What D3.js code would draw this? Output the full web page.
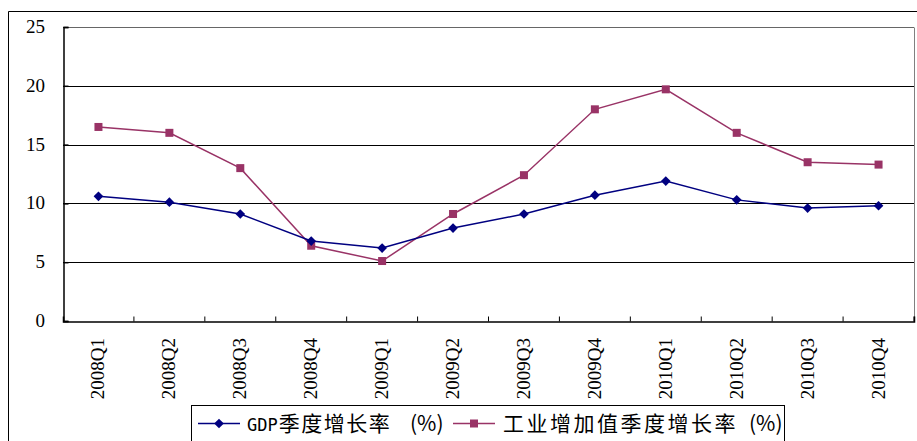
<!DOCTYPE html>
<html>
<head>
<meta charset="utf-8">
<script src="https://cdn.jsdelivr.net/npm/d3@7"></script>
<style>
  body { margin: 0; background: #fff; }
  svg { display: block; }
  .num { font-family: "Liberation Serif", "DejaVu Serif", serif; }
  .cjk { font-family: "Noto Sans CJK SC", sans-serif; }
</style>
</head>
<body>
<div id="chart"></div>
<script>
// quarters on the x axis
const quarters = ["2008Q1","2008Q2","2008Q3","2008Q4","2009Q1","2009Q2","2009Q3","2009Q4","2010Q1","2010Q2","2010Q3","2010Q4"];
// GDP quarterly growth (%)
const gdp = [10.6, 10.1, 9.1, 6.8, 6.2, 7.9, 9.1, 10.7, 11.9, 10.3, 9.6, 9.8];
// industrial value added quarterly growth (%)
const industry = [16.5, 16.0, 13.0, 6.4, 5.1, 9.1, 12.4, 18.0, 19.7, 16.0, 13.5, 13.3];
const yTicks = [0, 5, 10, 15, 20, 25];
const seriesNames = ["季度增长率", "工业增加值季度增长率"];

const width = 917, height = 441;
const margin = {top: 27, right: 3, bottom: 120, left: 63};

const svg = d3.select('#chart').append('svg')
    .attr('width', width)
    .attr('height', height);

// outer chart frame (only left and top visible)
svg.append('path')
    .attr('d', `M8.5,${height} V11.5 H${width}`)
    .attr('fill', 'none')
    .attr('stroke', '#000');

const x = d3.scaleBand()
    .domain(quarters)
    .range([margin.left, width - margin.right]);

const y = d3.scaleLinear()
    .domain([0, 25])
    .range([height - margin.bottom, margin.top]);

const plot = svg.append('g');

// gridlines
plot.selectAll('line.grid')
    .data(yTicks.filter(d => d > 0))
    .enter().append('line')
        .attr('class', 'grid')
        .attr('x1', margin.left)
        .attr('x2', width - margin.right)
        .attr('y1', d => Math.round(y(d)) + 0.5)
        .attr('y2', d => Math.round(y(d)) + 0.5)
        .attr('stroke', d => d === 25 ? '#666' : '#000')
        .attr('stroke-width', 1);

// right border of plot area
plot.append('line')
    .attr('x1', width - margin.right + 0.5).attr('x2', width - margin.right + 0.5)
    .attr('y1', Math.round(y(25)) + 0.5).attr('y2', Math.round(y(0)) + 0.5)
    .attr('stroke', '#808080');

// y axis
const yAxis = svg.append('g')
    .attr('transform', `translate(${margin.left + 0.5},0)`)
    .call(d3.axisRight(y).tickValues(yTicks).tickSize(5).tickFormat(''));
yAxis.select('.domain').attr('stroke', '#000').attr('stroke-width', 1.5);
yAxis.selectAll('.tick line').attr('stroke', '#000').attr('stroke-width', 1.5);

svg.selectAll('text.ylab')
    .data(yTicks)
    .enter().append('text')
        .attr('class', 'ylab num')
        .attr('x', 45)
        .attr('y', d => y(d) + 6)
        .attr('text-anchor', 'end')
        .attr('font-size', 19)
        .text(d => d);

// x axis
const xAxis = svg.append('g')
    .attr('transform', `translate(0,${Math.round(y(0)) + 0.5})`)
    .call(d3.axisTop(x).tickSize(5).tickFormat(''));
xAxis.select('.domain').attr('stroke', '#000').attr('stroke-width', 1.5);
xAxis.selectAll('.tick line')
    .attr('stroke', '#000')
    .attr('transform', function () { return 'translate(' + (x.bandwidth() / 2) + ',0)'; });

svg.selectAll('text.xlab')
    .data(quarters)
    .enter().append('text')
        .attr('class', 'xlab num')
        .attr('transform', d => `translate(${x(d) + x.bandwidth() / 2 + 6},338) rotate(-90)`)
        .attr('text-anchor', 'end')
        .attr('font-size', 19)
        .text(d => d);

// lines
const line = d3.line()
    .x((d, i) => x(quarters[i]) + x.bandwidth() / 2)
    .y(d => y(d));

plot.append('path')
    .datum(industry)
    .attr('d', line)
    .attr('fill', 'none')
    .attr('stroke', '#993366')
    .attr('stroke-width', 1.5);

plot.append('path')
    .datum(gdp)
    .attr('d', line)
    .attr('fill', 'none')
    .attr('stroke', '#000080')
    .attr('stroke-width', 1.5);

// markers
plot.selectAll('rect.ind')
    .data(industry)
    .enter().append('rect')
        .attr('class', 'ind')
        .attr('x', (d, i) => x(quarters[i]) + x.bandwidth() / 2 - 4)
        .attr('y', d => y(d) - 4)
        .attr('width', 8)
        .attr('height', 8)
        .attr('fill', '#993366');

const diamond = d3.symbol().type(d3.symbolDiamond2).size(60);
plot.selectAll('path.gdp')
    .data(gdp)
    .enter().append('path')
        .attr('class', 'gdp')
        .attr('d', diamond)
        .attr('transform', (d, i) => `translate(${x(quarters[i]) + x.bandwidth() / 2},${y(d)})`)
        .attr('fill', '#000080');

// legend
const legend = svg.append('g');
legend.append('rect')
    .attr('x', 191.5).attr('y', 405.5)
    .attr('width', 593).attr('height', 40)
    .attr('fill', '#fff')
    .attr('stroke', '#000');

const legendItems = [
    {prefix: 'GDP', name: seriesNames[0], color: '#000080', x1: 198, tx: 247, px: 410, mark: 'diamond'},
    {prefix: '', name: seriesNames[1], color: '#993366', x1: 453, tx: 503, px: 749, mark: 'square'}
];
legendItems.forEach(item => {
    legend.append('line')
        .attr('x1', item.x1).attr('x2', item.x1 + 42)
        .attr('y1', 423.5).attr('y2', 423.5)
        .attr('stroke', item.color)
        .attr('stroke-width', 1.5);
    if (item.mark === 'diamond') {
        legend.append('path')
            .attr('d', diamond)
            .attr('transform', `translate(${item.x1 + 21},423.5)`)
            .attr('fill', item.color);
    } else {
        legend.append('rect')
            .attr('x', item.x1 + 17).attr('y', 419.5)
            .attr('width', 8).attr('height', 8)
            .attr('fill', item.color);
    }
    const t = legend.append('text')
        .attr('x', item.tx)
        .attr('y', 431)
        .attr('font-size', 21)
        .attr('fill', '#000');
    if (item.prefix) {
        t.append('tspan')
            .style('font-family', '"DejaVu Sans Mono", monospace')
            .attr('font-size', 17)
            .attr('dx', 0)
            .text(item.prefix);
        t.append('tspan')
            .attr('class', 'cjk')
            .attr('dx', 1)
            .attr('letter-spacing', 1.5)
            .text(item.name);
    } else {
        t.append('tspan')
            .attr('class', 'cjk')
            .attr('letter-spacing', 2.5)
            .text(item.name);
    }
    legend.append('text')
        .attr('class', 'cjk')
        .attr('x', item.px)
        .attr('y', 431)
        .attr('font-size', 21)
        .text('(%)');
});
</script>
</body>
</html>
